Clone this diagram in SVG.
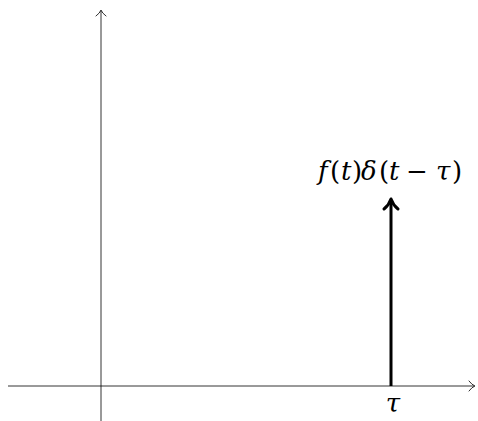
<svg xmlns="http://www.w3.org/2000/svg" width="478" height="421" viewBox="0 0 478 421">
<style>
.ax{stroke:#000;stroke-width:0.8;fill:none}
.tip{stroke:#000;fill:none;stroke-linecap:round;stroke-linejoin:round}
.m{font-family:"DejaVu Serif",serif;font-size:26px;fill:#000}
.i{font-style:italic}
</style>
<rect width="478" height="421" fill="#fff"/>
<g id="axes">
<line class="ax" x1="101" y1="421" x2="101" y2="11"/>
<path class="tip" stroke-width="0.8" d="M96,16 Q100,13 101,10 Q102,13 106,16"/>
<line class="ax" x1="8" y1="386" x2="474" y2="386"/>
<path class="tip" stroke-width="0.8" d="M469,381 Q472,385 475,386 Q472,387 469,391"/>
</g>
<g id="impulse">
<line stroke="#000" stroke-width="3" x1="391" y1="386" x2="391" y2="200"/>
<path class="tip" stroke-width="3" d="M384,209 Q389,205 391,199 Q393,205 398,209"/>
<text class="m" y="180"><tspan class="i" x="318">f</tspan><tspan x="330">(</tspan><tspan class="i" x="341">t</tspan><tspan x="352">)</tspan><tspan class="i" x="361">δ</tspan><tspan x="379">(</tspan><tspan class="i" x="389">t</tspan><tspan x="406">−</tspan><tspan class="i" x="436">τ</tspan><tspan x="452">)</tspan></text>
<text class="m i" x="393" y="412" text-anchor="middle">τ</text>
</g>
</svg>
